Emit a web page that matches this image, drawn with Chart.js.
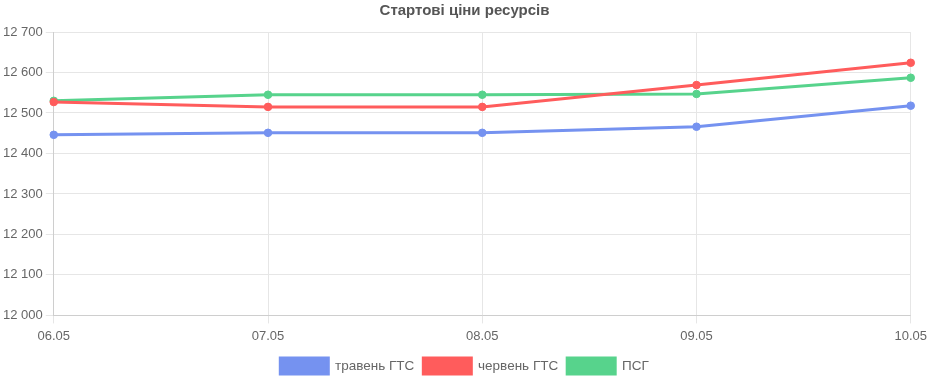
<!DOCTYPE html>
<html>
<head>
<meta charset="utf-8">
<script src="https://cdn.jsdelivr.net/npm/chart.js@4"></script>
<style>
  html, body { margin: 0; padding: 0; background: #fff; }
  #wrap { width: 932px; height: 377px; }
</style>
</head>
<body>
<div id="wrap"><canvas id="chart"></canvas></div>
<script>
// Data
const dates = ['06.05', '07.05', '08.05', '09.05', '10.05'];
const mayGts = [12446, 12451, 12451, 12466, 12518];
const juneGts = [12527, 12515, 12515, 12569, 12624];
const psg = [12530, 12545, 12545, 12547, 12587];

const fmt = v => String(v).replace(/\B(?=(\d{3})+(?!\d))/g, ' ');

Chart.defaults.font.family = '"Liberation Sans", Arial, sans-serif';
Chart.defaults.color = '#666';

function series(label, data, color) {
  return {
    label: label,
    data: data,
    borderColor: color,
    backgroundColor: color,
    borderWidth: 3,
    pointRadius: 3.8,
    pointBorderWidth: 1,
    pointHoverRadius: 5,
    tension: 0
  };
}

new Chart(document.getElementById('chart'), {
  type: 'line',
  data: {
    labels: dates,
    datasets: [
      series('травень ГТС', mayGts, '#7592f0'),
      series('червень ГТС', juneGts, '#ff5c5c'),
      series('ПСГ', psg, '#57d38c')
    ]
  },
  options: {
    responsive: true,
    maintainAspectRatio: false,
    animation: false,
    layout: { padding: { left: 0, right: 3, top: 0, bottom: -7 } },
    plugins: {
      title: {
        display: true,
        text: 'Стартові ціни ресурсів',
        color: '#555',
        font: { size: 15, weight: 'bold' },
        padding: { top: 2, bottom: 12 }
      },
      legend: {
        position: 'bottom',
        labels: {
          boxWidth: 48,
          boxHeight: 16,
          padding: 9,
          font: { size: 13.5 }
        }
      }
    },
    scales: {
      y: {
        min: 12000,
        max: 12700,
        ticks: {
          stepSize: 100,
          font: { size: 13 },
          callback: v => fmt(v)
        },
        grid: { color: '#e6e6e6' }
      },
      x: {
        ticks: { font: { size: 13 }, padding: 5 },
        grid: { color: '#e6e6e6' }
      }
    }
  }
});
</script>
</body>
</html>
